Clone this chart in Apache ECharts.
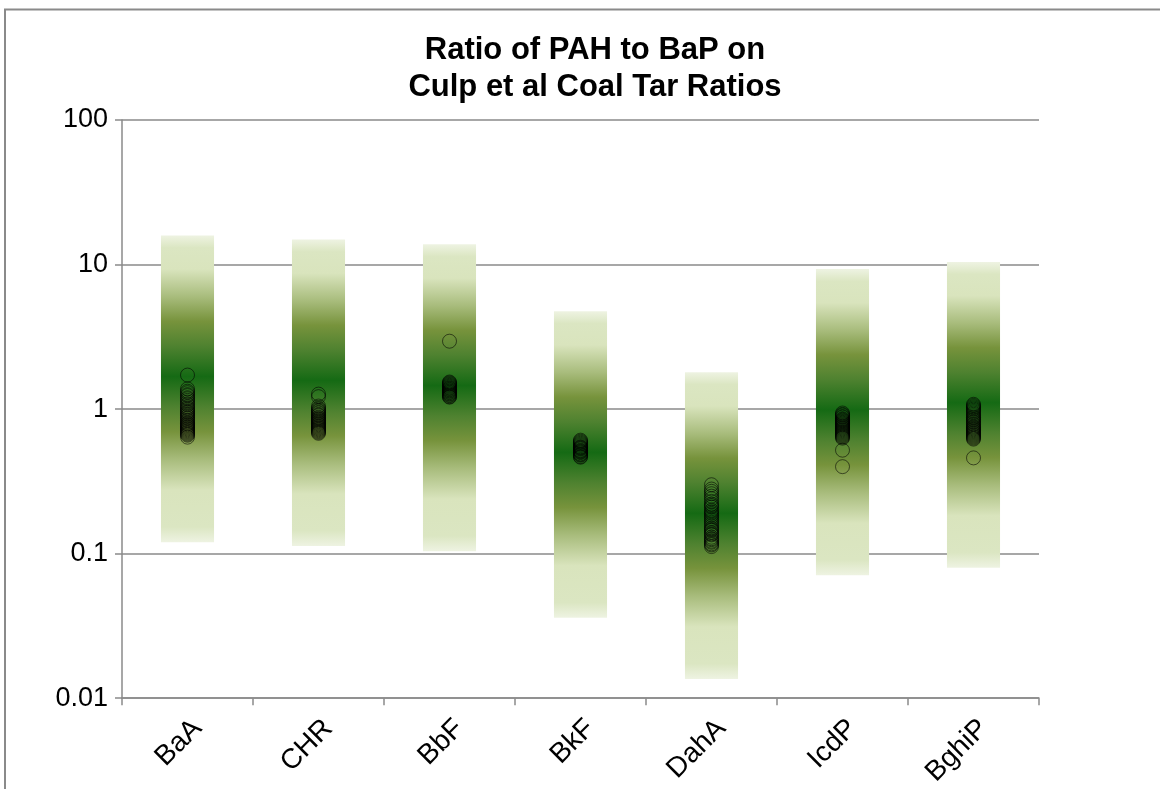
<!DOCTYPE html>
<html>
<head>
<meta charset="utf-8">
<script src="https://cdn.jsdelivr.net/npm/echarts@6/dist/echarts.min.js"></script>
<style>
html,body{margin:0;padding:0;background:#fff;}
#chart{width:1160px;height:789px;}
</style>
</head>
<body>
<div id="chart"></div>
<script>
// ---- data ----
const categories = ['BaA', 'CHR', 'BbF', 'BkF', 'DahA', 'IcdP', 'BghiP'];
const rangeLow  = [0.12, 0.113, 0.104, 0.036, 0.0136, 0.071, 0.080];
const rangeHigh = [15.9, 14.9, 13.8, 4.75, 1.8, 9.3, 10.4];
const yTicks = [0.01, 0.1, 1, 10, 100];
const yTickLabels = ['0.01', '0.1', '1', '10', '100'];

const ptsBaA  = [1.72, 1.38, 1.33, 1.30, 1.26, 1.24, 1.2, 1.18, 1.15, 1.12, 1.09, 1.07, 1.04, 1.02, 1.0, 0.98, 0.96, 0.95, 0.93, 0.92, 0.9, 0.89, 0.87, 0.86, 0.84, 0.83, 0.81, 0.80, 0.79, 0.78, 0.77, 0.76, 0.75, 0.74, 0.73, 0.72, 0.71, 0.70, 0.69, 0.68, 0.67, 0.66, 0.64];
const ptsCHR  = [1.27, 1.22, 1.05, 1.02, 1.0, 0.98, 0.97, 0.95, 0.94, 0.92, 0.91, 0.9, 0.88, 0.87, 0.86, 0.85, 0.84, 0.83, 0.82, 0.81, 0.80, 0.79, 0.78, 0.77, 0.76, 0.75, 0.74, 0.73, 0.72, 0.71, 0.70, 0.69, 0.68];
const ptsBbF  = [2.95, 1.54, 1.52, 1.50, 1.48, 1.46, 1.44, 1.42, 1.40, 1.39, 1.37, 1.36, 1.34, 1.33, 1.31, 1.30, 1.28, 1.27, 1.25, 1.24, 1.22, 1.21];
const ptsBkF  = [0.61, 0.60, 0.59, 0.58, 0.57, 0.56, 0.55, 0.545, 0.54, 0.535, 0.53, 0.52, 0.515, 0.51, 0.505, 0.50, 0.49, 0.485, 0.48, 0.47, 0.465];
const ptsDahA = [0.30, 0.28, 0.27, 0.26, 0.25, 0.24, 0.23, 0.22, 0.215, 0.21, 0.20, 0.195, 0.19, 0.185, 0.18, 0.175, 0.17, 0.165, 0.16, 0.155, 0.15, 0.147, 0.145, 0.14, 0.137, 0.135, 0.13, 0.127, 0.125, 0.122, 0.12, 0.117, 0.115, 0.112];
const ptsIcdP = [0.94, 0.92, 0.91, 0.89, 0.88, 0.86, 0.85, 0.84, 0.83, 0.82, 0.81, 0.80, 0.79, 0.78, 0.77, 0.76, 0.75, 0.74, 0.73, 0.72, 0.71, 0.70, 0.69, 0.68, 0.67, 0.66, 0.65, 0.64, 0.63, 0.52, 0.40];
const ptsBghiP= [1.08, 1.06, 1.04, 1.02, 1.0, 0.98, 0.96, 0.94, 0.92, 0.9, 0.88, 0.87, 0.85, 0.84, 0.82, 0.81, 0.79, 0.78, 0.76, 0.75, 0.74, 0.73, 0.72, 0.71, 0.70, 0.69, 0.68, 0.67, 0.66, 0.65, 0.64, 0.63, 0.62, 0.46];
const pointSets = [ptsBaA, ptsCHR, ptsBbF, ptsBkF, ptsDahA, ptsIcdP, ptsBghiP];

// ---- build ----
const barData = categories.map((c, i) => [i, rangeLow[i], rangeHigh[i]]);
const scatterData = [];
pointSets.forEach((arr, i) => arr.forEach(v => scatterData.push([i, v])));

const gradStops = [
  {offset: 0, color: '#eef3e2'},
  {offset: 0.04, color: '#dbe6c2'},
  {offset: 0.11, color: '#d9e4bd'},
  {offset: 0.2, color: '#a8bc7c'},
  {offset: 0.28, color: '#77933c'},
  {offset: 0.36, color: '#4f8230'},
  {offset: 0.46, color: '#156a14'},
  {offset: 0.56, color: '#4f8230'},
  {offset: 0.64, color: '#77933c'},
  {offset: 0.73, color: '#a8bc7c'},
  {offset: 0.83, color: '#d9e4bd'},
  {offset: 0.95, color: '#dbe6c2'},
  {offset: 1, color: '#eef3e2'}
];

const chart = echarts.init(document.getElementById('chart'), null, {renderer: 'canvas'});
const font = 'Liberation Sans, Arial, sans-serif';
chart.setOption({
  animation: false,
  backgroundColor: '#fff',
  title: {
    text: 'Ratio of PAH to BaP on\nCulp et al Coal Tar Ratios',
    left: 590, top: 27, textAlign: 'center',
    textStyle: {fontFamily: font, fontSize: 31, fontWeight: 'bold', color: '#000', lineHeight: 37}
  },
  graphic: [{
    type: 'rect', silent: true,
    shape: {x: 5, y: 9.5, width: 1300, height: 900},
    style: {fill: 'none', stroke: '#8a8a8a', lineWidth: 2}
  }],
  grid: {left: 122, right: 121, top: 120, bottom: 90},
  xAxis: {
    type: 'category', data: categories, boundaryGap: true,
    axisLine: {show: true, lineStyle: {color: '#8a8a8a', width: 1.5}},
    axisTick: {show: true, interval: 0, length: 7, lineStyle: {color: '#8a8a8a', width: 1.5}},
    axisLabel: {rotate: 45, fontFamily: font, fontSize: 28, color: '#000', margin: 16, interval: 0,
                align: 'right', verticalAlign: 'top'},
    splitLine: {show: false}
  },
  yAxis: {
    type: 'log', logBase: 10, min: 0.01, max: 100,
    axisLine: {show: true, lineStyle: {color: '#8a8a8a', width: 1.5}},
    axisTick: {show: true, length: 7, lineStyle: {color: '#8a8a8a', width: 1.5}},
    axisLabel: {
      fontFamily: font, fontSize: 27, color: '#000', margin: 14,
      formatter: v => {
        for (let k = 0; k < yTicks.length; k++) {
          if (Math.abs(Math.log10(v) - Math.log10(yTicks[k])) < 1e-6) return yTickLabels[k];
        }
        return '';
      }
    },
    splitLine: {show: true, lineStyle: {color: '#8a8a8a', width: 1.5}}
  },
  series: [{
    type: 'custom',
    data: barData,
    encode: {x: 0, y: [1, 2]},
    z: 2,
    renderItem: function (params, api) {
      const top = api.coord([api.value(0), api.value(2)]);
      const bot = api.coord([api.value(0), api.value(1)]);
      const w = api.size([1, 1])[0] * 0.405;
      return {
        type: 'rect',
        shape: {x: top[0] - w / 2, y: top[1], width: w, height: bot[1] - top[1]},
        style: {fill: new echarts.graphic.LinearGradient(0, 0, 0, 1, gradStops)}
      };
    }
  }, {
    type: 'scatter',
    data: scatterData,
    z: 3,
    symbol: 'circle',
    symbolSize: 14,
    itemStyle: {color: 'rgba(0,0,0,0)', borderColor: 'rgba(0,0,0,0.7)', borderWidth: 1}
  }]
});
</script>
</body>
</html>
